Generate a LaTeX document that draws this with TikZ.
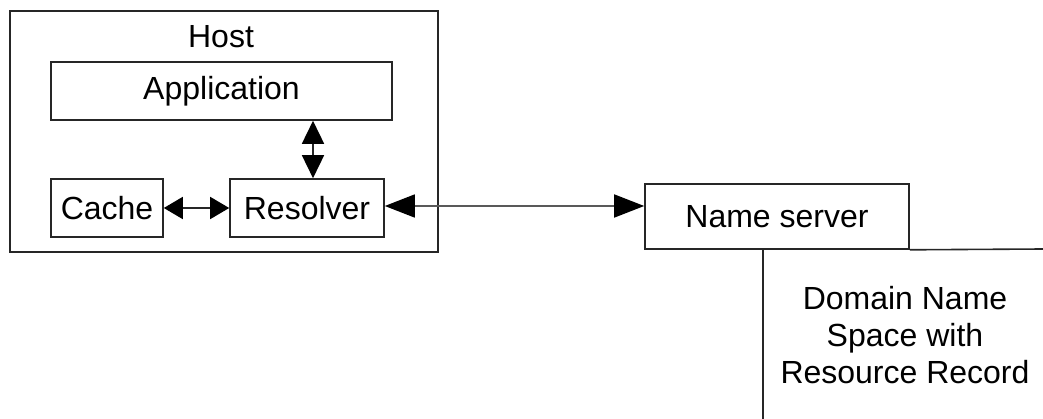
\documentclass[tikz,border=0pt]{standalone}
\usepackage{fontspec}
\setmainfont{Liberation Sans}
\usetikzlibrary{arrows.meta,calc}
\begin{document}
\begin{tikzpicture}[x=1pt,y=-1pt,
  line width=1.6pt,
  box/.style={draw=black!85,rectangle,inner sep=0pt,font=\fontsize{32}{37}\selectfont},
  lbl/.style={inner sep=0pt,font=\fontsize{32}{37}\selectfont,align=center},
  vdbl/.style={{Triangle[length=23pt,width=22pt,color=black]}-{Triangle[length=23pt,width=22pt,color=black]},draw=black!85},
  dbl/.style={{Triangle[length=19pt,width=22pt,color=black]}-{Triangle[length=19pt,width=22pt,color=black]},draw=black!85},
  far/.style={{Triangle[length=30pt,width=23pt,color=black]}-{Triangle[length=30pt,width=23pt,color=black]},draw=black!65}]
\useasboundingbox (0,0) rectangle (1043,419);
% host frame and its parts
\node[box,minimum width=428pt,minimum height=241pt] (host) at (224,131.5) {};
\node[lbl] (hostlbl) at (221,37) {Host};
\node[box,minimum width=341pt,minimum height=58pt] (app) at (221.5,91) {Application};
\node[box,minimum width=112pt,minimum height=58pt] (cache) at (107,208) {Cache};
\node[box,minimum width=154pt,minimum height=58pt] (res) at (307,208) {Resolver};
% remote side
\node[box,minimum width=264pt,minimum height=65pt] (ns) at (777,216.5) {Name server};
\coordinate (nsfoot) at (763,249);
\coordinate (bottom) at (763,419);
\coordinate (edge) at (1043,249);
\node[lbl] (dns) at (905,335) {Domain Name\\Space with\\Resource Record};
% connectors
\draw[vdbl] ([xshift=6pt]res.north |- app.south) -- ([xshift=6pt]res.north);
\draw[dbl] (cache.east) -- (res.west);
\draw[far] ([yshift=2pt]res.east) -- ([yshift=2pt]res.east -| ns.west);
\draw[draw=black!85] (nsfoot) -- (bottom);
\draw[draw=black!85] (ns.south east) -- (edge);
\end{tikzpicture}
\end{document}
